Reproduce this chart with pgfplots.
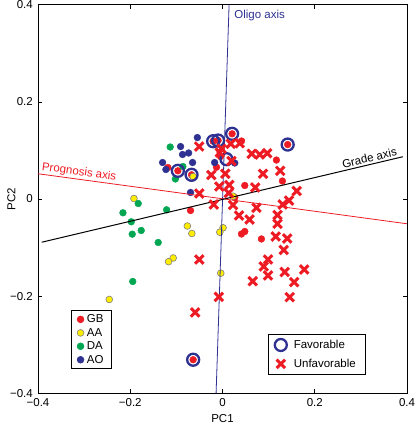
\documentclass[border=0pt]{standalone}
\usepackage{fontspec}
\setmainfont{Liberation Sans}
\usepackage{pgfplots}
\pgfplotsset{compat=1.18}
\definecolor{gbred}{RGB}{237,28,36}
\definecolor{aayel}{RGB}{255,237,0}
\definecolor{dagreen}{RGB}{0,166,81}
\definecolor{aoblue}{RGB}{46,49,146}
\pgfplotsset{
  common/.style={
    scale only axis, width=369pt, height=388.6pt,
    xmin=-0.4, xmax=0.4, ymin=-0.4, ymax=0.4,
    font=\fontsize{11.5}{13.5}\selectfont,
  }
}
\begin{document}
\begin{tikzpicture}
\begin{axis}[common,
  axis line style={line width=0.6pt},
  xtick={-0.4,-0.2,0,0.2,0.4},
  xticklabels={−0.4,−0.2,0,0.2,0.4},
  ytick={-0.4,-0.2,0,0.2,0.4},
  yticklabels={−0.4,−0.2,0,0.2,0.4},
  xticklabel style={inner ysep=0pt, yshift=-5pt},
  yticklabel style={inner ysep=0pt, inner xsep=0pt, xshift=-5pt},
  tick align=inside, major tick length=4pt,
  tick style={line width=0.6pt, black},
  xlabel={PC1}, ylabel={PC2},
  every axis x label/.style={at={([yshift=-25pt]rel axis cs:0.5,0)}, anchor=center},
  every axis y label/.style={at={([xshift=-26.5pt]rel axis cs:0,0.5)}, rotate=90, anchor=center},
  legend style={at={(rel axis cs:0.089,0.063)}, anchor=south west,
    draw=black, line width=0.6pt, fill=white, inner xsep=6pt, inner ysep=2pt,
    font=\fontsize{11.5}{13.5}\selectfont, cells={anchor=west},
    /tikz/every odd column/.append style={column sep=1pt}},
]
\addplot[only marks, mark=*, mark size=3.4pt, mark options={fill=gbred, draw=gbred}] table {
x y
-0.0203 0.1189
-0.0095 0.1204
0.0208 0.1342
0.1413 0.1121
-0.0968 0.058
-0.0671 0.0498
-0.0636 -0.3309
0.0411 0.1193
-0.0043 0.0874
-0.013 0.0654
0.1169 0.0802
0.1299 0.037
0.0483 0.0278
0.0266 0.0031
-0.0693 -0.0237
0.0483 -0.0669
0.0411 -0.072
0.0844 -0.0823
-0.1184 0.0648
};
\addlegendentry{GB}
\addplot[only marks, mark=*, mark size=3.4pt, mark options={fill=aayel, draw=gray, line width=0.6pt}] table {
x y
0.0229 0.0058
-0.192 0.001
-0.0762 -0.0556
-0.0665 -0.071
0.0013 -0.0593
-0.0058 -0.0683
-0.1069 -0.1214
-0.1169 -0.129
-0.0037 -0.1527
-0.2455 -0.2068
-0.0636 0.0463
};
\addlegendentry{AA}
\addplot[only marks, mark=*, mark size=3.4pt, mark options={fill=dagreen, draw=dagreen}] table {
x y
-0.1134 0.107
-0.0859 0.0669
-0.1022 0.0412
-0.1827 -0.0093
-0.2158 -0.0284
-0.1212 -0.0222
-0.1978 -0.0469
-0.1957 -0.0724
-0.1762 -0.0648
-0.1394 -0.0895
-0.1946 -0.1698
};
\addlegendentry{DA}
\addplot[only marks, mark=*, mark size=3.4pt, mark options={fill=aoblue, draw=aoblue}] table {
x y
-0.0545 0.1265
-0.0909 0.108
-0.0734 0.0947
-0.0866 0.0916
-0.1299 0.0751
-0.0649 0.0751
-0.0171 0.0751
-0.1227 0.0607
-0.0693 0.0134
0.0266 0.0741
};
\addlegendentry{AO}
\end{axis}
\begin{axis}[common, hide axis,
  legend style={at={(rel axis cs:0.622,0.047)}, anchor=south west,
    draw=black, line width=0.6pt, fill=white, inner xsep=7pt, inner ysep=4pt, row sep=5pt,
    font=\fontsize{11.5}{13.5}\selectfont, cells={anchor=west},
    /tikz/every odd column/.append style={column sep=5pt}},
]
\addplot[only marks, mark=o, mark size=6pt, mark options={draw=aoblue, line width=2.3pt}] table {
x y
-0.0203 0.1189
-0.0095 0.1204
0.0208 0.1342
0.1413 0.1121
0.0087 0.0819
-0.0968 0.058
-0.0671 0.0498
-0.0636 -0.3309
};
\addlegendentry{Favorable}
\addplot[only marks, mark=x, mark size=6pt, mark options={draw=gbred, line width=3pt}] table {
x y
-0.0506 0.108
0.018 0.1136
0.0374 0.1148
-0.0022 0.1033
0.0634 0.093
0.0807 0.0916
0.097 0.0942
0.0195 0.0782
0.0879 0.0519
0.1251 0.058
-0.0242 0.0494
0.0061 0.0519
-0.0069 0.0257
0.0147 0.0288
0.071 0.0237
0.0136 0.0123
-0.0502 0.0113
0.1608 0.0165
0.1442 -0.0031
0.1305 -0.0113
-0.0188 -0.0113
0.0229 -0.0123
0.0736 -0.0181
0.0359 -0.034
0.0587 -0.0422
0.1193 -0.0329
0.1193 -0.051
0.1154 -0.0772
0.1403 -0.0813
0.1327 -0.1049
0.0987 -0.1245
0.0894 -0.1389
0.0987 -0.1574
0.0656 -0.1691
0.1348 -0.1502
0.1771 -0.1451
0.1554 -0.1712
0.1457 -0.2021
-0.008 -0.2016
-0.0593 -0.2335
-0.0502 -0.1245
-0.0058 0.0957
};
\addlegendentry{Unfavorable}
\addplot[aoblue, line width=0.8pt, forget plot] coordinates {(-0.0139,-0.4) (0.0143,0.4)};
\addplot[gbred, line width=0.8pt, forget plot] coordinates {(-0.4,0.052) (0.4,-0.051)};
\addplot[black, line width=1pt, forget plot] coordinates {(-0.392,-0.089) (0.391,0.087)};
\node[anchor=west, text=aoblue, font=\fontsize{11.5}{13.5}\selectfont] at (axis cs:0.018,0.378) {Oligo axis};
\node[anchor=south west, text=gbred, rotate=-7.75, inner sep=1.5pt, font=\fontsize{11.5}{13.5}\selectfont] at (axis cs:-0.397,0.0515) {Prognosis axis};
\node[anchor=south east, text=black, rotate=13.3, inner sep=2pt, font=\fontsize{11.5}{13.5}\selectfont] at (axis cs:0.385,0.0858) {Grade axis};
\end{axis}
\path ([xshift=-38pt,yshift=-32.7pt]current axis.south west) rectangle ([xshift=9pt,yshift=4.7pt]current axis.north east);
\end{tikzpicture}
\end{document}
